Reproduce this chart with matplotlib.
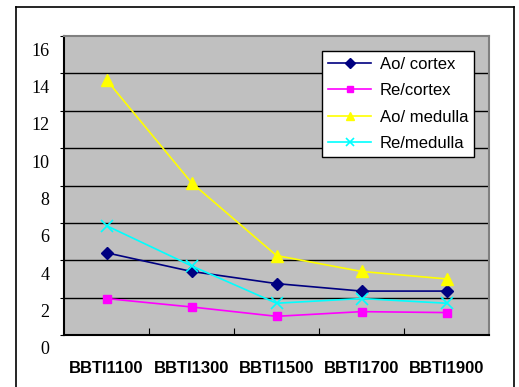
import matplotlib
matplotlib.use("Agg")
import matplotlib.pyplot as plt
import matplotlib.transforms as mtransforms
from matplotlib.lines import Line2D

#Data
groups = ["BBTI1100", "BBTI1300", "BBTI1500", "BBTI1700", "BBTI1900"]
ao_cortex = [4.4, 3.4, 2.75, 2.35, 2.35]
re_cortex = [1.95, 1.5, 1.0, 1.25, 1.2]
ao_medulla = [13.65, 8.15, 4.25, 3.4, 3.0]
re_medulla = [5.85, 3.7, 1.7, 1.95, 1.7]
yticks = [0, 2, 4, 6, 8, 10, 12, 14, 16]

fig = plt.figure(figsize=(5.19, 3.87), dpi=100)
ax = fig.add_axes([64/519, 52/387, 425/519, 299/387])
ax.set_facecolor("#C0C0C0")

x = [i + 0.5 for i in range(len(groups))]
ax.plot(x, ao_cortex, color="#000080", marker="D", markersize=6, lw=1.2, label="Ao/ cortex")
ax.plot(x, re_cortex, color="#FF00FF", marker="s", markersize=6, lw=1.2, label="Re/cortex")
ax.plot(x, ao_medulla, color="#FFFF00", marker="^", markersize=8, lw=1.2, label="Ao/ medulla")
ax.plot(x, re_medulla, color="#00FFFF", marker="x", markersize=8, mew=1.2, lw=1.2, label="Re/medulla")

ax.set_xlim(0, 5)
ax.set_ylim(0, 16)

#Gridlines
for v in yticks[1:-1]:
    ax.axhline(v, color="black", lw=1.0, zorder=1)

#Y ticks - labels shifted down like the original
ax.set_yticks(yticks)
ax.set_yticklabels([str(v) for v in yticks], family="Liberation Serif", fontsize=13)
ax.tick_params(axis="y", length=3, pad=11)
offset = mtransforms.ScaledTranslation(0.05, -13/100, fig.dpi_scale_trans)
for lab in ax.get_yticklabels():
    lab.set_transform(lab.get_transform() + offset)

#X ticks at category borders, labels in the middle
ax.set_xticks([1, 2, 3, 4])
ax.set_xticklabels([])
ax.tick_params(axis="x", which="major", direction="in", length=5)
ax.set_xticks(x, minor=True)
ax.set_xticklabels(groups, minor=True, family="Liberation Sans", fontweight="bold", fontsize=12)
ax.tick_params(axis="x", which="minor", length=0, pad=19)

ax.spines["left"].set_linewidth(1.5)
ax.spines["bottom"].set_linewidth(1.5)
ax.spines["top"].set_color("#808080")
ax.spines["right"].set_color("#808080")
ax.spines["top"].set_linewidth(1.5)
ax.spines["right"].set_linewidth(1.5)

leg = ax.legend(loc="upper right", bbox_to_anchor=(474/519, 1 - 51/387), bbox_transform=fig.transFigure,
                prop={"family": "Liberation Sans", "size": 12}, fancybox=False, framealpha=1,
                edgecolor="black", borderpad=0.35, labelspacing=0.68, handlelength=2.6,
                handletextpad=0.5, borderaxespad=0, markerscale=0.8)
leg.get_frame().set_linewidth(1.0)

#Outer frame
fig.add_artist(Line2D([16/519, 16/519], [0, 1 - 7/387], color="black", lw=1.2))
fig.add_artist(Line2D([16/519, 514/519], [1 - 7/387, 1 - 7/387], color="black", lw=1.2))
fig.add_artist(Line2D([514/519, 514/519], [0, 1 - 7/387], color="black", lw=1.2))

plt.savefig("out.png", dpi=100)
